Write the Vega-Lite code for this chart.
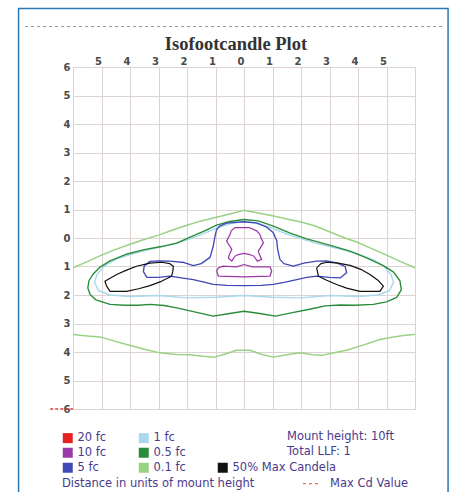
{
  "$schema": "https://vega.github.io/schema/vega-lite/v6.json",
  "autosize": {"type": "none"},
  "width": 342,
  "height": 342,
  "padding": {"left": 73, "top": 67, "right": 36, "bottom": 83},
  "background": "white",
  "title": {"text": "Isofootcandle Plot", "font": "Liberation Serif", "fontSize": 18.5, "fontWeight": "bold", "color": "#333333", "dx": -8, "offset": -46},
  "config": {
    "view": {"stroke": "#d6cccc", "strokeWidth": 1},
    "axis": {"gridColor": "#ddd3d3", "gridWidth": 1, "ticks": false, "domain": false, "labelFont": "DejaVu Sans", "labelFontWeight": "bold", "labelFontSize": 10, "labelColor": "#4a4a4a", "title": null, "labelOverlap": false},
    "axisX": {"tickCount": 30},
    "axisY": {"tickCount": 30}
  },
  "datasets": {
    "contours": [
      {"lv":"0.1 fc","s":"g1","o":0,"x":-6.3,"y":-1.25},{"lv":"0.1 fc","s":"g1","o":1,"x":-6,"y":-1.05},{"lv":"0.1 fc","s":"g1","o":2,"x":-5.5,"y":-0.83},{"lv":"0.1 fc","s":"g1","o":3,"x":-5,"y":-0.6},{"lv":"0.1 fc","s":"g1","o":4,"x":-4.5,"y":-0.4},{"lv":"0.1 fc","s":"g1","o":5,"x":-4,"y":-0.22},{"lv":"0.1 fc","s":"g1","o":6,"x":-3.5,"y":-0.05},{"lv":"0.1 fc","s":"g1","o":7,"x":-3,"y":0.1},{"lv":"0.1 fc","s":"g1","o":8,"x":-2.5,"y":0.28},{"lv":"0.1 fc","s":"g1","o":9,"x":-2,"y":0.45},{"lv":"0.1 fc","s":"g1","o":10,"x":-1.5,"y":0.6},{"lv":"0.1 fc","s":"g1","o":11,"x":-1,"y":0.72},{"lv":"0.1 fc","s":"g1","o":12,"x":-0.5,"y":0.84},{"lv":"0.1 fc","s":"g1","o":13,"x":0,"y":0.97},{"lv":"0.1 fc","s":"g1","o":14,"x":0.5,"y":0.88},{"lv":"0.1 fc","s":"g1","o":15,"x":1,"y":0.78},{"lv":"0.1 fc","s":"g1","o":16,"x":1.5,"y":0.67},{"lv":"0.1 fc","s":"g1","o":17,"x":2,"y":0.56},{"lv":"0.1 fc","s":"g1","o":18,"x":2.5,"y":0.42},{"lv":"0.1 fc","s":"g1","o":19,"x":3,"y":0.22},{"lv":"0.1 fc","s":"g1","o":20,"x":3.5,"y":0.02},{"lv":"0.1 fc","s":"g1","o":21,"x":4,"y":-0.16},{"lv":"0.1 fc","s":"g1","o":22,"x":4.5,"y":-0.38},{"lv":"0.1 fc","s":"g1","o":23,"x":5,"y":-0.6},{"lv":"0.1 fc","s":"g1","o":24,"x":5.5,"y":-0.83},{"lv":"0.1 fc","s":"g1","o":25,"x":6,"y":-1.05},{"lv":"0.1 fc","s":"g1","o":26,"x":6.3,"y":-1.25},
      {"lv":"0.1 fc","s":"g2","o":0,"x":-6.3,"y":-3.36},{"lv":"0.1 fc","s":"g2","o":1,"x":-6,"y":-3.39},{"lv":"0.1 fc","s":"g2","o":2,"x":-5.5,"y":-3.44},{"lv":"0.1 fc","s":"g2","o":3,"x":-5.05,"y":-3.47},{"lv":"0.1 fc","s":"g2","o":4,"x":-4.6,"y":-3.6},{"lv":"0.1 fc","s":"g2","o":5,"x":-4.12,"y":-3.74},{"lv":"0.1 fc","s":"g2","o":6,"x":-3.5,"y":-3.9},{"lv":"0.1 fc","s":"g2","o":7,"x":-2.95,"y":-4.03},{"lv":"0.1 fc","s":"g2","o":8,"x":-2.36,"y":-4.09},{"lv":"0.1 fc","s":"g2","o":9,"x":-1.9,"y":-4.1},{"lv":"0.1 fc","s":"g2","o":10,"x":-1.43,"y":-4.15},{"lv":"0.1 fc","s":"g2","o":11,"x":-1.02,"y":-4.18},{"lv":"0.1 fc","s":"g2","o":12,"x":-0.6,"y":-4.05},{"lv":"0.1 fc","s":"g2","o":13,"x":-0.26,"y":-3.94},{"lv":"0.1 fc","s":"g2","o":14,"x":0.21,"y":-3.94},{"lv":"0.1 fc","s":"g2","o":15,"x":0.6,"y":-4.08},{"lv":"0.1 fc","s":"g2","o":16,"x":1.03,"y":-4.18},{"lv":"0.1 fc","s":"g2","o":17,"x":1.5,"y":-4.1},{"lv":"0.1 fc","s":"g2","o":18,"x":1.96,"y":-4.03},{"lv":"0.1 fc","s":"g2","o":19,"x":2.4,"y":-4.1},{"lv":"0.1 fc","s":"g2","o":20,"x":2.78,"y":-4.11},{"lv":"0.1 fc","s":"g2","o":21,"x":3.2,"y":-4.02},{"lv":"0.1 fc","s":"g2","o":22,"x":3.6,"y":-3.94},{"lv":"0.1 fc","s":"g2","o":23,"x":4.2,"y":-3.75},{"lv":"0.1 fc","s":"g2","o":24,"x":4.77,"y":-3.56},{"lv":"0.1 fc","s":"g2","o":25,"x":5.24,"y":-3.47},{"lv":"0.1 fc","s":"g2","o":26,"x":5.6,"y":-3.42},{"lv":"0.1 fc","s":"g2","o":27,"x":5.94,"y":-3.39},{"lv":"0.1 fc","s":"g2","o":28,"x":6.3,"y":-3.36},
      {"lv":"1 fc","s":"b","o":0,"x":0,"y":0.58},{"lv":"1 fc","s":"b","o":1,"x":-0.5,"y":0.5},{"lv":"1 fc","s":"b","o":2,"x":-1,"y":0.33},{"lv":"1 fc","s":"b","o":3,"x":-1.5,"y":0.12},{"lv":"1 fc","s":"b","o":4,"x":-2,"y":-0.06},{"lv":"1 fc","s":"b","o":5,"x":-2.5,"y":-0.22},{"lv":"1 fc","s":"b","o":6,"x":-3,"y":-0.33},{"lv":"1 fc","s":"b","o":7,"x":-3.5,"y":-0.45},{"lv":"1 fc","s":"b","o":8,"x":-4,"y":-0.58},{"lv":"1 fc","s":"b","o":9,"x":-4.5,"y":-0.75},{"lv":"1 fc","s":"b","o":10,"x":-4.9,"y":-0.98},{"lv":"1 fc","s":"b","o":11,"x":-5.15,"y":-1.27},{"lv":"1 fc","s":"b","o":12,"x":-5.25,"y":-1.55},{"lv":"1 fc","s":"b","o":13,"x":-5.1,"y":-1.85},{"lv":"1 fc","s":"b","o":14,"x":-4.7,"y":-2.0},{"lv":"1 fc","s":"b","o":15,"x":-4,"y":-2.05},{"lv":"1 fc","s":"b","o":16,"x":-3,"y":-2.02},{"lv":"1 fc","s":"b","o":17,"x":-2,"y":-2.1},{"lv":"1 fc","s":"b","o":18,"x":-1,"y":-2.08},{"lv":"1 fc","s":"b","o":19,"x":0,"y":-2.02},{"lv":"1 fc","s":"b","o":20,"x":1,"y":-2.08},{"lv":"1 fc","s":"b","o":21,"x":2,"y":-2.1},{"lv":"1 fc","s":"b","o":22,"x":3,"y":-2.02},{"lv":"1 fc","s":"b","o":23,"x":4,"y":-2.05},{"lv":"1 fc","s":"b","o":24,"x":4.7,"y":-2.0},{"lv":"1 fc","s":"b","o":25,"x":5.1,"y":-1.85},{"lv":"1 fc","s":"b","o":26,"x":5.25,"y":-1.55},{"lv":"1 fc","s":"b","o":27,"x":5.15,"y":-1.27},{"lv":"1 fc","s":"b","o":28,"x":4.9,"y":-0.98},{"lv":"1 fc","s":"b","o":29,"x":4.5,"y":-0.75},{"lv":"1 fc","s":"b","o":30,"x":4,"y":-0.56},{"lv":"1 fc","s":"b","o":31,"x":3.5,"y":-0.42},{"lv":"1 fc","s":"b","o":32,"x":3,"y":-0.3},{"lv":"1 fc","s":"b","o":33,"x":2.5,"y":-0.18},{"lv":"1 fc","s":"b","o":34,"x":2,"y":-0.02},{"lv":"1 fc","s":"b","o":35,"x":1.5,"y":0.14},{"lv":"1 fc","s":"b","o":36,"x":1,"y":0.34},{"lv":"1 fc","s":"b","o":37,"x":0.5,"y":0.5},{"lv":"1 fc","s":"b","o":38,"x":0,"y":0.58},
      {"lv":"0.5 fc","s":"d","o":0,"x":0,"y":0.65},{"lv":"0.5 fc","s":"d","o":1,"x":-0.5,"y":0.58},{"lv":"0.5 fc","s":"d","o":2,"x":-0.96,"y":0.45},{"lv":"0.5 fc","s":"d","o":3,"x":-1.4,"y":0.24},{"lv":"0.5 fc","s":"d","o":4,"x":-1.89,"y":0.03},{"lv":"0.5 fc","s":"d","o":5,"x":-2.36,"y":-0.18},{"lv":"0.5 fc","s":"d","o":6,"x":-2.9,"y":-0.3},{"lv":"0.5 fc","s":"d","o":7,"x":-3.5,"y":-0.41},{"lv":"0.5 fc","s":"d","o":8,"x":-4.1,"y":-0.56},{"lv":"0.5 fc","s":"d","o":9,"x":-4.7,"y":-0.8},{"lv":"0.5 fc","s":"d","o":10,"x":-5.05,"y":-1.02},{"lv":"0.5 fc","s":"d","o":11,"x":-5.29,"y":-1.26},{"lv":"0.5 fc","s":"d","o":12,"x":-5.44,"y":-1.5},{"lv":"0.5 fc","s":"d","o":13,"x":-5.48,"y":-1.75},{"lv":"0.5 fc","s":"d","o":14,"x":-5.4,"y":-1.98},{"lv":"0.5 fc","s":"d","o":15,"x":-5.2,"y":-2.17},{"lv":"0.5 fc","s":"d","o":16,"x":-4.7,"y":-2.33},{"lv":"0.5 fc","s":"d","o":17,"x":-4.2,"y":-2.36},{"lv":"0.5 fc","s":"d","o":18,"x":-3.7,"y":-2.36},{"lv":"0.5 fc","s":"d","o":19,"x":-3.3,"y":-2.33},{"lv":"0.5 fc","s":"d","o":20,"x":-2.8,"y":-2.37},{"lv":"0.5 fc","s":"d","o":21,"x":-2.36,"y":-2.45},{"lv":"0.5 fc","s":"d","o":22,"x":-1.7,"y":-2.6},{"lv":"0.5 fc","s":"d","o":23,"x":-1.08,"y":-2.74},{"lv":"0.5 fc","s":"d","o":24,"x":-0.5,"y":-2.65},{"lv":"0.5 fc","s":"d","o":25,"x":0,"y":-2.57},{"lv":"0.5 fc","s":"d","o":26,"x":0.55,"y":-2.65},{"lv":"0.5 fc","s":"d","o":27,"x":1.1,"y":-2.74},{"lv":"0.5 fc","s":"d","o":28,"x":1.7,"y":-2.62},{"lv":"0.5 fc","s":"d","o":29,"x":2.3,"y":-2.5},{"lv":"0.5 fc","s":"d","o":30,"x":2.85,"y":-2.38},{"lv":"0.5 fc","s":"d","o":31,"x":3.37,"y":-2.35},{"lv":"0.5 fc","s":"d","o":32,"x":3.9,"y":-2.36},{"lv":"0.5 fc","s":"d","o":33,"x":4.54,"y":-2.33},{"lv":"0.5 fc","s":"d","o":34,"x":5.0,"y":-2.24},{"lv":"0.5 fc","s":"d","o":35,"x":5.36,"y":-2.08},{"lv":"0.5 fc","s":"d","o":36,"x":5.52,"y":-1.81},{"lv":"0.5 fc","s":"d","o":37,"x":5.47,"y":-1.5},{"lv":"0.5 fc","s":"d","o":38,"x":5.25,"y":-1.2},{"lv":"0.5 fc","s":"d","o":39,"x":4.89,"y":-0.97},{"lv":"0.5 fc","s":"d","o":40,"x":4.3,"y":-0.7},{"lv":"0.5 fc","s":"d","o":41,"x":3.72,"y":-0.46},{"lv":"0.5 fc","s":"d","o":42,"x":3.0,"y":-0.25},{"lv":"0.5 fc","s":"d","o":43,"x":2.2,"y":-0.03},{"lv":"0.5 fc","s":"d","o":44,"x":1.6,"y":0.18},{"lv":"0.5 fc","s":"d","o":45,"x":1.03,"y":0.42},{"lv":"0.5 fc","s":"d","o":46,"x":0.5,"y":0.6},{"lv":"0.5 fc","s":"d","o":47,"x":0,"y":0.65},
      {"lv":"5 fc","s":"v","o":0,"x":0,"y":0.57},{"lv":"5 fc","s":"v","o":1,"x":-0.3,"y":0.55},{"lv":"5 fc","s":"v","o":2,"x":-0.61,"y":0.52},{"lv":"5 fc","s":"v","o":3,"x":-0.85,"y":0.42},{"lv":"5 fc","s":"v","o":4,"x":-0.96,"y":0.3},{"lv":"5 fc","s":"v","o":5,"x":-1.02,"y":0.05},{"lv":"5 fc","s":"v","o":6,"x":-1.08,"y":-0.29},{"lv":"5 fc","s":"v","o":7,"x":-1.19,"y":-0.68},{"lv":"5 fc","s":"v","o":8,"x":-1.5,"y":-0.9},{"lv":"5 fc","s":"v","o":9,"x":-1.78,"y":-0.97},{"lv":"5 fc","s":"v","o":10,"x":-2.1,"y":-0.86},{"lv":"5 fc","s":"v","o":11,"x":-2.6,"y":-0.81},{"lv":"5 fc","s":"v","o":12,"x":-3.0,"y":-0.8},{"lv":"5 fc","s":"v","o":13,"x":-3.3,"y":-0.82},{"lv":"5 fc","s":"v","o":14,"x":-3.5,"y":-0.98},{"lv":"5 fc","s":"v","o":15,"x":-3.53,"y":-1.18},{"lv":"5 fc","s":"v","o":16,"x":-3.41,"y":-1.38},{"lv":"5 fc","s":"v","o":17,"x":-3.0,"y":-1.38},{"lv":"5 fc","s":"v","o":18,"x":-2.6,"y":-1.34},{"lv":"5 fc","s":"v","o":19,"x":-2.2,"y":-1.4},{"lv":"5 fc","s":"v","o":20,"x":-1.78,"y":-1.46},{"lv":"5 fc","s":"v","o":21,"x":-1.4,"y":-1.55},{"lv":"5 fc","s":"v","o":22,"x":-1.08,"y":-1.63},{"lv":"5 fc","s":"v","o":23,"x":-0.6,"y":-1.66},{"lv":"5 fc","s":"v","o":24,"x":0,"y":-1.67},{"lv":"5 fc","s":"v","o":25,"x":0.6,"y":-1.66},{"lv":"5 fc","s":"v","o":26,"x":1.03,"y":-1.63},{"lv":"5 fc","s":"v","o":27,"x":1.45,"y":-1.55},{"lv":"5 fc","s":"v","o":28,"x":1.85,"y":-1.46},{"lv":"5 fc","s":"v","o":29,"x":2.2,"y":-1.38},{"lv":"5 fc","s":"v","o":30,"x":2.55,"y":-1.34},{"lv":"5 fc","s":"v","o":31,"x":3.0,"y":-1.38},{"lv":"5 fc","s":"v","o":32,"x":3.37,"y":-1.4},{"lv":"5 fc","s":"v","o":33,"x":3.6,"y":-1.22},{"lv":"5 fc","s":"v","o":34,"x":3.55,"y":-1.0},{"lv":"5 fc","s":"v","o":35,"x":3.25,"y":-0.87},{"lv":"5 fc","s":"v","o":36,"x":2.9,"y":-0.8},{"lv":"5 fc","s":"v","o":37,"x":2.55,"y":-0.81},{"lv":"5 fc","s":"v","o":38,"x":2.1,"y":-0.88},{"lv":"5 fc","s":"v","o":39,"x":1.73,"y":-0.99},{"lv":"5 fc","s":"v","o":40,"x":1.4,"y":-0.9},{"lv":"5 fc","s":"v","o":41,"x":1.26,"y":-0.75},{"lv":"5 fc","s":"v","o":42,"x":1.18,"y":-0.4},{"lv":"5 fc","s":"v","o":43,"x":1.15,"y":-0.1},{"lv":"5 fc","s":"v","o":44,"x":1.03,"y":0.18},{"lv":"5 fc","s":"v","o":45,"x":0.8,"y":0.38},{"lv":"5 fc","s":"v","o":46,"x":0.44,"y":0.53},{"lv":"5 fc","s":"v","o":47,"x":0,"y":0.57},
      {"lv":"10 fc","s":"p1","o":0,"x":0,"y":0.36},{"lv":"10 fc","s":"p1","o":1,"x":-0.32,"y":0.36},{"lv":"10 fc","s":"p1","o":2,"x":-0.45,"y":0.25},{"lv":"10 fc","s":"p1","o":3,"x":-0.49,"y":0.12},{"lv":"10 fc","s":"p1","o":4,"x":-0.61,"y":-0.11},{"lv":"10 fc","s":"p1","o":5,"x":-0.5,"y":-0.28},{"lv":"10 fc","s":"p1","o":6,"x":-0.43,"y":-0.4},{"lv":"10 fc","s":"p1","o":7,"x":-0.5,"y":-0.55},{"lv":"10 fc","s":"p1","o":8,"x":-0.55,"y":-0.7},{"lv":"10 fc","s":"p1","o":9,"x":-0.43,"y":-0.81},{"lv":"10 fc","s":"p1","o":10,"x":-0.32,"y":-0.64},{"lv":"10 fc","s":"p1","o":11,"x":-0.2,"y":-0.58},{"lv":"10 fc","s":"p1","o":12,"x":0,"y":-0.54},{"lv":"10 fc","s":"p1","o":13,"x":0.2,"y":-0.58},{"lv":"10 fc","s":"p1","o":14,"x":0.35,"y":-0.64},{"lv":"10 fc","s":"p1","o":15,"x":0.47,"y":-0.81},{"lv":"10 fc","s":"p1","o":16,"x":0.62,"y":-0.75},{"lv":"10 fc","s":"p1","o":17,"x":0.55,"y":-0.6},{"lv":"10 fc","s":"p1","o":18,"x":0.5,"y":-0.46},{"lv":"10 fc","s":"p1","o":19,"x":0.6,"y":-0.3},{"lv":"10 fc","s":"p1","o":20,"x":0.68,"y":-0.17},{"lv":"10 fc","s":"p1","o":21,"x":0.6,"y":0.0},{"lv":"10 fc","s":"p1","o":22,"x":0.56,"y":0.12},{"lv":"10 fc","s":"p1","o":23,"x":0.45,"y":0.25},{"lv":"10 fc","s":"p1","o":24,"x":0.2,"y":0.36},{"lv":"10 fc","s":"p1","o":25,"x":0,"y":0.36},
      {"lv":"10 fc","s":"p2","o":0,"x":-0.9,"y":-1.05},{"lv":"10 fc","s":"p2","o":1,"x":-0.73,"y":-0.99},{"lv":"10 fc","s":"p2","o":2,"x":-0.26,"y":-1.01},{"lv":"10 fc","s":"p2","o":3,"x":0,"y":-0.93},{"lv":"10 fc","s":"p2","o":4,"x":0.3,"y":-1.01},{"lv":"10 fc","s":"p2","o":5,"x":0.91,"y":-1.01},{"lv":"10 fc","s":"p2","o":6,"x":0.97,"y":-1.16},{"lv":"10 fc","s":"p2","o":7,"x":0.91,"y":-1.34},{"lv":"10 fc","s":"p2","o":8,"x":0,"y":-1.36},{"lv":"10 fc","s":"p2","o":9,"x":-0.9,"y":-1.34},{"lv":"10 fc","s":"p2","o":10,"x":-0.96,"y":-1.16},{"lv":"10 fc","s":"p2","o":11,"x":-0.9,"y":-1.05},
      {"lv":"50% Max Candela","s":"k1","o":0,"x":-4.82,"y":-1.69},{"lv":"50% Max Candela","s":"k1","o":1,"x":-4.88,"y":-1.52},{"lv":"50% Max Candela","s":"k1","o":2,"x":-4.47,"y":-1.28},{"lv":"50% Max Candela","s":"k1","o":3,"x":-4.1,"y":-1.12},{"lv":"50% Max Candela","s":"k1","o":4,"x":-3.77,"y":-0.99},{"lv":"50% Max Candela","s":"k1","o":5,"x":-3.3,"y":-0.88},{"lv":"50% Max Candela","s":"k1","o":6,"x":-2.89,"y":-0.85},{"lv":"50% Max Candela","s":"k1","o":7,"x":-2.6,"y":-0.9},{"lv":"50% Max Candela","s":"k1","o":8,"x":-2.48,"y":-0.99},{"lv":"50% Max Candela","s":"k1","o":9,"x":-2.5,"y":-1.18},{"lv":"50% Max Candela","s":"k1","o":10,"x":-2.54,"y":-1.34},{"lv":"50% Max Candela","s":"k1","o":11,"x":-2.9,"y":-1.52},{"lv":"50% Max Candela","s":"k1","o":12,"x":-3.3,"y":-1.67},{"lv":"50% Max Candela","s":"k1","o":13,"x":-3.7,"y":-1.78},{"lv":"50% Max Candela","s":"k1","o":14,"x":-4.12,"y":-1.87},{"lv":"50% Max Candela","s":"k1","o":15,"x":-4.7,"y":-1.87},{"lv":"50% Max Candela","s":"k1","o":16,"x":-4.82,"y":-1.69},
      {"lv":"50% Max Candela","s":"k2","o":0,"x":2.55,"y":-1.05},{"lv":"50% Max Candela","s":"k2","o":1,"x":2.7,"y":-0.9},{"lv":"50% Max Candela","s":"k2","o":2,"x":2.9,"y":-0.85},{"lv":"50% Max Candela","s":"k2","o":3,"x":3.3,"y":-0.88},{"lv":"50% Max Candela","s":"k2","o":4,"x":3.72,"y":-0.96},{"lv":"50% Max Candela","s":"k2","o":5,"x":4.1,"y":-1.1},{"lv":"50% Max Candela","s":"k2","o":6,"x":4.42,"y":-1.28},{"lv":"50% Max Candela","s":"k2","o":7,"x":4.7,"y":-1.48},{"lv":"50% Max Candela","s":"k2","o":8,"x":4.89,"y":-1.69},{"lv":"50% Max Candela","s":"k2","o":9,"x":4.77,"y":-1.87},{"lv":"50% Max Candela","s":"k2","o":10,"x":4.4,"y":-1.87},{"lv":"50% Max Candela","s":"k2","o":11,"x":4.07,"y":-1.87},{"lv":"50% Max Candela","s":"k2","o":12,"x":3.6,"y":-1.76},{"lv":"50% Max Candela","s":"k2","o":13,"x":3.25,"y":-1.63},{"lv":"50% Max Candela","s":"k2","o":14,"x":2.9,"y":-1.48},{"lv":"50% Max Candela","s":"k2","o":15,"x":2.61,"y":-1.34},{"lv":"50% Max Candela","s":"k2","o":16,"x":2.55,"y":-1.05}
    ]
  },
  "layer": [
    {
      "data": {"name": "contours"},
      "mark": {"type": "line", "clip": true, "strokeJoin": "round"},
      "encoding": {
        "x": {"field": "x", "type": "quantitative", "scale": {"domain": [-6, 6], "nice": false},
              "axis": {"orient": "top", "values": [-6, -5, -4, -3, -2, -1, 0, 1, 2, 3, 4, 5, 6], "tickCount": 30, "labelExpr": "abs(datum.value) == 6 ? '' : '' + abs(datum.value)", "labelPadding": 1, "labelOffset": -3.5, "grid": true}},
        "y": {"field": "y", "type": "quantitative", "scale": {"domain": [-6, 6], "nice": false},
              "axis": {"orient": "left", "values": [-6, -5, -4, -3, -2, -1, 0, 1, 2, 3, 4, 5, 6], "tickCount": 30, "labelExpr": "'' + abs(datum.value)", "labelPadding": 3, "grid": true}},
        "order": {"field": "o", "type": "quantitative"},
        "detail": {"field": "s"},
        "color": {
          "field": "lv", "type": "nominal",
          "scale": {
            "domain": ["20 fc", "10 fc", "5 fc", "1 fc", "0.5 fc", "0.1 fc", "x1", "x2", "50% Max Candela"],
            "range": ["#e52222", "#9a3aa8", "#4048b8", "#aad8ec", "#2a8c3a", "#98d283", "transparent", "transparent", "#111111"]
          },
          "legend": {
            "orient": "none", "legendX": -11, "legendY": 365, "title": null, "columns": 3, "columnPadding": 31, "rowPadding": 2,
            "padding": 0, "symbolType": "square", "symbolSize": 100, "labelOffset": 4,
            "labelFont": "DejaVu Sans", "labelFontSize": 11.5, "labelColor": "#4a3a8c",
            "labelExpr": "datum.label == 'x1' || datum.label == 'x2' ? '' : datum.label",
            "encode": {"symbols": {"update": {"fill": {"scale": "color", "field": "value"}, "stroke": {"value": "transparent"}, "strokeWidth": {"value": 0}, "shape": {"value": "square"}}}}
          }
        },
        "strokeWidth": {
          "field": "lv", "type": "nominal",
          "scale": {"domain": ["0.1 fc", "1 fc", "0.5 fc", "5 fc", "10 fc", "50% Max Candela"], "range": [1.5, 1.2, 2, 1.5, 1.5, 1.5]},
          "legend": null
        }
      }
    },
    {
      "data": {"values": [{}]},
      "mark": {"type": "rect", "fill": null, "fillOpacity": 0, "stroke": "#2b78b5", "strokeWidth": 1.5, "clip": false},
      "encoding": {
        "x": {"datum": -7.91, "type": "quantitative"},
        "x2": {"datum": 7.16},
        "y": {"datum": 8.05, "type": "quantitative"},
        "y2": {"datum": -9.3}
      }
    },
    {
      "data": {"values": [{}]},
      "mark": {"type": "rule", "stroke": "#8a9ab0", "strokeWidth": 1, "strokeDash": [3, 3], "clip": false},
      "encoding": {
        "x": {"datum": -7.68, "type": "quantitative"},
        "x2": {"datum": 7.05},
        "y": {"datum": 7.42, "type": "quantitative"}
      }
    },
    {
      "data": {"values": [{"t": ["Mount height: 10ft", "Total LLF: 1"]}]},
      "mark": {"type": "text", "align": "left", "baseline": "middle", "font": "DejaVu Sans", "fontSize": 11.5, "color": "#4a3a8c", "lineHeight": 15, "clip": false},
      "encoding": {
        "x": {"datum": 1.51, "type": "quantitative"},
        "y": {"datum": -6.98, "type": "quantitative"},
        "text": {"field": "t"}
      }
    },
    {
      "data": {"values": [{"t": "Distance in units of mount height"}]},
      "mark": {"type": "text", "align": "left", "baseline": "middle", "font": "DejaVu Sans", "fontSize": 11.5, "color": "#4a3a8c", "clip": false},
      "encoding": {
        "x": {"datum": -6.39, "type": "quantitative"},
        "y": {"datum": -8.62, "type": "quantitative"},
        "text": {"field": "t"}
      }
    },
    {
      "data": {"values": [{"t": "Max Cd Value"}]},
      "mark": {"type": "text", "align": "left", "baseline": "middle", "font": "DejaVu Sans", "fontSize": 11.5, "color": "#4a3a8c", "clip": false},
      "encoding": {
        "x": {"datum": 3.02, "type": "quantitative"},
        "y": {"datum": -8.62, "type": "quantitative"},
        "text": {"field": "t"}
      }
    },
    {
      "data": {"values": [{}]},
      "mark": {"type": "rule", "stroke": "#e07070", "strokeWidth": 1.3, "strokeDash": [3, 3], "clip": false},
      "encoding": {
        "x": {"datum": 2.07, "type": "quantitative"},
        "x2": {"datum": 2.67},
        "y": {"datum": -8.62, "type": "quantitative"}
      }
    },
    {
      "data": {"values": [{}]},
      "mark": {"type": "rule", "stroke": "#e03a3a", "strokeWidth": 1.3, "strokeDash": [3, 2], "clip": false},
      "encoding": {
        "x": {"datum": -6.8, "type": "quantitative"},
        "x2": {"datum": -6.0},
        "y": {"datum": -6.0, "type": "quantitative"}
      }
    }
  ]
}
